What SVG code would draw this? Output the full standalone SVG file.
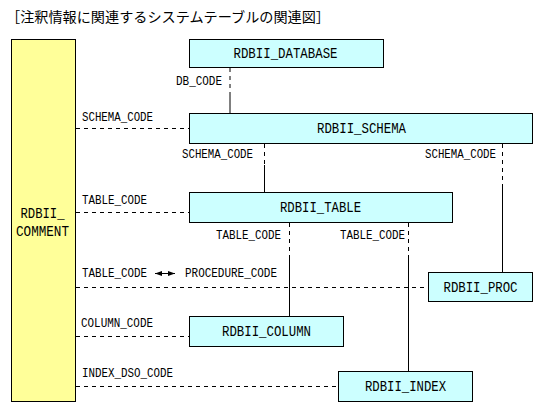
<svg xmlns="http://www.w3.org/2000/svg" width="548" height="415" viewBox="0 0 548 415">
<style>
.box{fill:#CCFFFF;stroke:#000;stroke-width:1}
.ybox{fill:#FFFF99;stroke:#000;stroke-width:1}
.bl{font-family:"Liberation Mono","DejaVu Sans Mono",monospace;font-size:14.5px;fill:#000;text-anchor:middle}
.cl{font-family:"Liberation Mono","DejaVu Sans Mono",monospace;font-size:12.5px;fill:#000}
.title{font-family:"Noto Sans CJK JP","Noto Sans CJK SC",sans-serif;font-size:14px;fill:#000}
.d{stroke:#000;stroke-width:1;stroke-dasharray:4 4;fill:none}
.s{stroke:#000;stroke-width:1;fill:none}
</style>
<defs>
<marker id="ah" viewBox="0 0 7 5" refX="7" refY="2.5" markerWidth="7" markerHeight="5" markerUnits="userSpaceOnUse" orient="auto-start-reverse">
<path d="M0,0 L7,2.5 L0,5 Z" fill="#000"/>
</marker>
</defs>
<text class="title" x="6" y="22" textLength="324" lengthAdjust="spacingAndGlyphs">［注釈情報に関連するシステムテーブルの関連図］</text>

<g id="connectors">
<line class="d" x1="230" y1="68" x2="230" y2="93"/>
<line class="s" x1="230" y1="93" x2="230" y2="113"/>
<line class="d" x1="264.5" y1="144" x2="264.5" y2="165"/>
<line class="s" x1="264.5" y1="165" x2="264.5" y2="192"/>
<line class="d" x1="502.5" y1="144" x2="502.5" y2="187"/>
<line class="s" x1="502.5" y1="187" x2="502.5" y2="272"/>
<line class="d" x1="289.5" y1="223" x2="289.5" y2="255"/>
<line class="s" x1="289.5" y1="255" x2="289.5" y2="316"/>
<line class="d" x1="408.5" y1="223" x2="408.5" y2="255"/>
<line class="s" x1="408.5" y1="255" x2="408.5" y2="371"/>
<line class="d" x1="76" y1="128.5" x2="189" y2="128.5"/>
<line class="d" x1="76" y1="212.5" x2="189" y2="212.5"/>
<line class="d" x1="76" y1="287.5" x2="428" y2="287.5"/>
<line class="d" x1="76" y1="336.5" x2="189" y2="336.5"/>
<line class="d" x1="76" y1="386.5" x2="338" y2="386.5"/>
<line class="s" x1="155" y1="273.5" x2="175" y2="273.5" marker-start="url(#ah)" marker-end="url(#ah)"/>
<text class="cl" x="176" y="85" textLength="46" lengthAdjust="spacingAndGlyphs">DB_CODE</text>
<text class="cl" x="82" y="121" textLength="71" lengthAdjust="spacingAndGlyphs">SCHEMA_CODE</text>
<text class="cl" x="182" y="158" textLength="71" lengthAdjust="spacingAndGlyphs">SCHEMA_CODE</text>
<text class="cl" x="425" y="158" textLength="71" lengthAdjust="spacingAndGlyphs">SCHEMA_CODE</text>
<text class="cl" x="82" y="204" textLength="65" lengthAdjust="spacingAndGlyphs">TABLE_CODE</text>
<text class="cl" x="216" y="239" textLength="65" lengthAdjust="spacingAndGlyphs">TABLE_CODE</text>
<text class="cl" x="340" y="239" textLength="65" lengthAdjust="spacingAndGlyphs">TABLE_CODE</text>
<text class="cl" x="82" y="277" textLength="65" lengthAdjust="spacingAndGlyphs">TABLE_CODE</text>
<text class="cl" x="185" y="277" textLength="92" lengthAdjust="spacingAndGlyphs">PROCEDURE_CODE</text>
<text class="cl" x="81" y="327" textLength="72" lengthAdjust="spacingAndGlyphs">COLUMN_CODE</text>
<text class="cl" x="82" y="377" textLength="91" lengthAdjust="spacingAndGlyphs">INDEX_DSO_CODE</text>
</g>

<g id="comment">
<rect class="ybox" x="11.5" y="39.5" width="64" height="362"/>
<text class="bl" x="42.5" y="218" textLength="44" lengthAdjust="spacingAndGlyphs">RDBII_</text>
<text class="bl" x="42.5" y="236" textLength="53" lengthAdjust="spacingAndGlyphs">COMMENT</text>
</g>
<g id="database">
<rect class="box" x="189.5" y="39.5" width="194" height="28"/>
<text class="bl" x="285.5" y="58" textLength="104" lengthAdjust="spacingAndGlyphs">RDBII_DATABASE</text>
</g>
<g id="schema">
<rect class="box" x="189.5" y="113.5" width="343" height="30"/>
<text class="bl" x="361.5" y="133" textLength="89" lengthAdjust="spacingAndGlyphs">RDBII_SCHEMA</text>
</g>
<g id="table">
<rect class="box" x="189.5" y="192.5" width="263" height="30"/>
<text class="bl" x="320.5" y="212" textLength="81" lengthAdjust="spacingAndGlyphs">RDBII_TABLE</text>
</g>
<g id="proc">
<rect class="box" x="428.5" y="272.5" width="104" height="29"/>
<text class="bl" x="480.5" y="292" textLength="74" lengthAdjust="spacingAndGlyphs">RDBII_PROC</text>
</g>
<g id="column">
<rect class="box" x="189.5" y="316.5" width="154" height="30"/>
<text class="bl" x="266.5" y="336" textLength="89" lengthAdjust="spacingAndGlyphs">RDBII_COLUMN</text>
</g>
<g id="index">
<rect class="box" x="338.5" y="371.5" width="134" height="30"/>
<text class="bl" x="405.5" y="391" textLength="81" lengthAdjust="spacingAndGlyphs">RDBII_INDEX</text>
</g>
</svg>
